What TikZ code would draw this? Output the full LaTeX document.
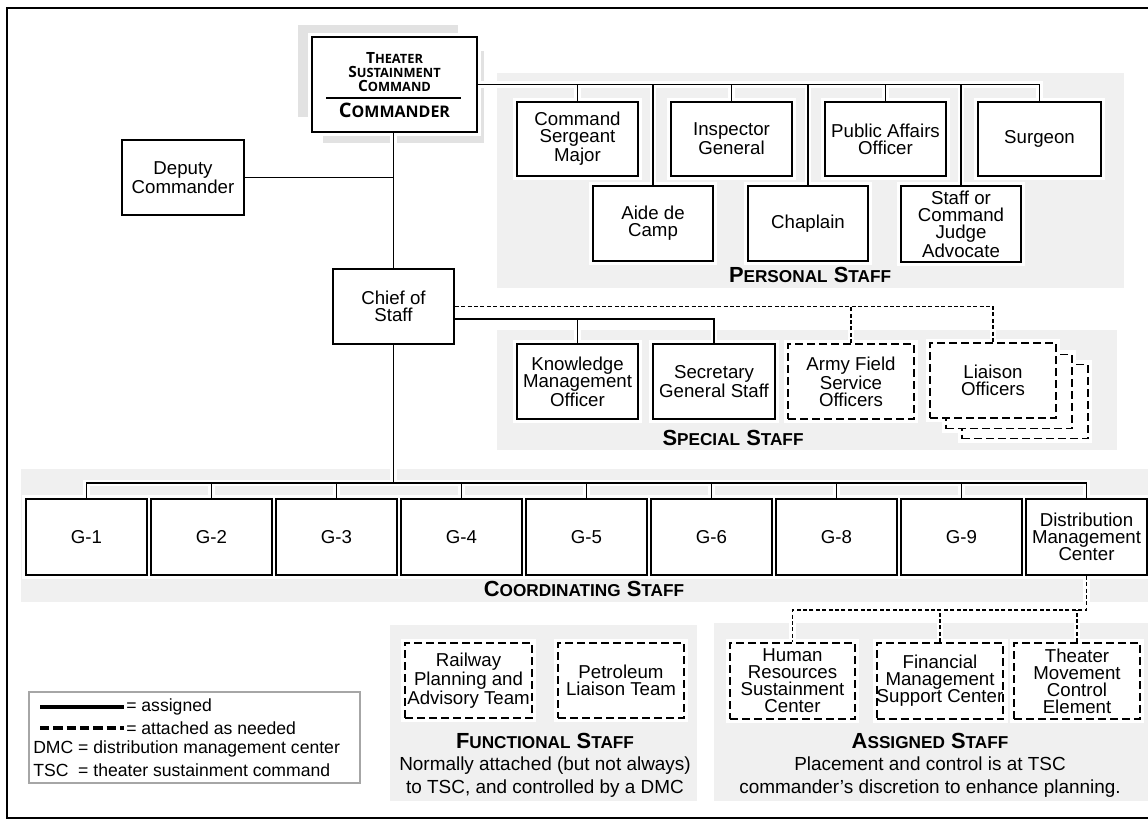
\documentclass[tikz,border=0pt]{standalone}
\usepackage{fontspec}
\setmainfont{Liberation Sans}
\newfontfamily\hum{Open Sans}
\pgfdeclarelayer{bg}
\pgfsetlayers{bg,main}
\definecolor{regiongray}{RGB}{240,240,240}
\definecolor{shadowgray}{RGB}{226,226,226}
\newcommand\lab{\fontsize{14}{12.75}\selectfont}
\newcommand\hdf{\fontsize{16.4}{18}\selectfont\bfseries}
\newcommand\smc[1]{{\fontsize{12.9}{14}\selectfont #1}}
\newcommand\csm[1]{{\fontsize{9.6}{10}\selectfont #1}}
\newcommand\cmm[1]{{\fontsize{12}{12}\selectfont #1}}
\newcommand\lnk[2][]{\begin{pgfonlayer}{bg}\draw[halo] #2;\end{pgfonlayer}\draw[ln,#1] #2;}
\begin{document}
\begin{tikzpicture}[x=0.75pt, y=-0.75pt,
  ln/.style={line width=1.3pt, draw=black},
  dln/.style={dash pattern=on 3pt off 1.8pt},
  halo/.style={draw=white, line width=5pt},
  box/.style={draw, line width=1.3pt, fill=white, inner sep=0pt, align=center, font=\lab},
  dbox/.style={box, dash pattern=on 6pt off 3pt},
  sz/.style 2 args={minimum width=#1*0.75pt, minimum height=#2*0.75pt},
  hd/.style={font=\hdf, inner sep=0pt},
  ttl/.style={font=\hum\bfseries\fontsize{11.6}{10.6}\selectfont, inner sep=0pt, anchor=base},
  txt/.style={font=\fontsize{14.2}{17.25}\selectfont, align=center, inner sep=0pt},
  lgd/.style={font=\fontsize{13.2}{15}\selectfont, inner sep=0pt, anchor=west}]
\useasboundingbox (0,0) rectangle (1148,824);

% regions
\begin{pgfonlayer}{bg}
\fill[regiongray] (497,73) rectangle (1124,288);
\fill[regiongray] (497,330) rectangle (1117,450);
\fill[regiongray] (21,469) rectangle (1148,602);
\fill[regiongray] (390,625) rectangle (697,801);
\fill[regiongray] (714,623) rectangle (1148,801);
\fill[shadowgray] (298,25) rectangle (458,117);
\fill[shadowgray] (323,51) rectangle (484,143);
\end{pgfonlayer}

% frame
\draw[line width=1.5pt] (1148,8) -- (7,8) -- (7,818) -- (1148,818);

% commander
\node[box, sz={165}{95}] (cmd) at (394.5,84.5) {};
\node[ttl] (cmt1) at (394.5,63.5) {T\csm{HEATER}};
\node[ttl] (cmt2) at (394.5,77.5) {S\csm{USTAINMENT}};
\node[ttl] (cmt3) at (394.5,91.5) {C\csm{OMMAND}};
\draw[line width=1.2pt] (326,98) -- (461,98);
\node[font=\hum\bfseries\fontsize{15}{15}\selectfont, inner sep=0pt, anchor=base] (cmdl) at (394.5,117) {C\cmm{OMMANDER}};

\node[box, sz={122}{75}] (dep) at (183,177.5) {Deputy\\Commander};
\node[box, sz={121}{75}] (cos) at (393.5,306.5) {Chief of\\Staff};

% personal staff
\node[box, sz={121}{74}] (csm) at (577.5,139) {Command\\Sergeant\\Major};
\node[box, sz={121}{74}] (ig) at (731.5,139) {Inspector\\General};
\node[box, sz={121}{74}] (pao) at (885.5,139) {Public Affairs\\Officer};
\node[box, sz={123}{74}] (surg) at (1039.5,139) {Surgeon};
\node[box, sz={120}{75}] (aide) at (653,223.5) {Aide de\\Camp};
\node[box, sz={120}{75}] (chap) at (808,223.5) {Chaplain};
\node[box, sz={120}{76}] (sja) at (961,224) {Staff or\\Command\\Judge\\Advocate};

% special staff
\node[box, sz={121}{75}] (kmo) at (577.5,381.5) {Knowledge\\Management\\Officer};
\node[box, sz={122}{75}] (sgs) at (714,381.5) {Secretary\\General Staff};
\node[dbox, sz={126}{75}] (afso) at (851,381.5) {Army Field\\Service\\Officers};
\node[dbox, sz={126}{74}] (lia3) at (1025,401.5) {};
\node[dbox, sz={126}{74}] (lia2) at (1009,391.5) {};
\node[dbox, sz={126}{75}] (lia) at (993,380.5) {Liaison\\Officers};

% coordinating staff
\foreach \i/\t in {0/G-1,1/G-2,2/G-3,3/G-4,4/G-5,5/G-6,6/G-8,7/G-9}
  \node[box, sz={121}{76}] (g\i) at ({86.5+125*\i},537) {\t};
\node[box, sz={121}{76}] (dmc) at (1086.5,537) {Distribution\\Management\\Center};

% functional / assigned
\node[dbox, sz={127}{75}] (rail) at (468.5,680.5) {Railway\\Planning and\\Advisory Team};
\node[dbox, sz={126}{75}] (petr) at (621,680.5) {Petroleum\\Liaison Team};
\node[dbox, sz={125}{76}] (hrsc) at (792.5,681) {Human\\Resources\\Sustainment\\Center};
\node[dbox, sz={126}{76}] (fmsc) at (940,681) {Financial\\Management\\Support Center};
\node[dbox, sz={126}{76}] (tmce) at (1077,681) {Theater\\Movement\\Control\\Element};

% headings
\node[hd] (hps) at (810,275) {P\smc{ERSONAL} S\smc{TAFF}};
\node[hd] (hss) at (733,438) {S\smc{PECIAL} S\smc{TAFF}};
\node[hd] (hcs) at (584,589) {C\smc{OORDINATING} S\smc{TAFF}};
\node[hd] (hfs) at (545,741) {F\smc{UNCTIONAL} S\smc{TAFF}};
\node[hd] (has) at (930,741) {A\smc{SSIGNED} S\smc{TAFF}};
\node[txt] (dfs) at (545,777) {Normally attached (but not always)\\to TSC, and controlled by a DMC};
\node[txt] (das) at (930,777) {Placement and control is at TSC\\commander’s discretion to enhance planning.};

% legend
\draw[gray!70, line width=1pt] (29,692) rectangle (360,783);
\coordinate (la) at (40,707); \coordinate (lb) at (124,707);
\coordinate (lc) at (40,728); \coordinate (ld) at (124,728);
\draw[line width=2.3pt] (la) -- (lb);
\draw[line width=2.3pt, dash pattern=on 7pt off 3pt] (lc) -- (ld);
\node[lgd] (l1) at (126,707) {= assigned};
\node[lgd] (l2) at (126,728) {= attached as needed};
\node[lgd] (l3) at (33,749) {DMC = distribution management center};
\node[lgd] (l4) at (33,770) {TSC\ \ = theater sustainment command};

% box halos
\begin{pgfonlayer}{bg}
\foreach \n in {cmd,dep,cos,csm,ig,pao,surg,aide,chap,sja,kmo,sgs,afso,lia,lia2,lia3,g0,g1,g2,g3,g4,g5,g6,g7,dmc,rail,petr,hrsc,fmsc,tmce}
  \draw[halo] (\n.south west) rectangle (\n.north east);
\end{pgfonlayer}

% connectors
\coordinate (cs1) at (454,319);
\coordinate (gbar) at (393.5,483);
\coordinate (dbar) at (1086.5,610);
\lnk{(cmd.east) -| (surg.north)}
\lnk{(csm.north) -- (csm.north |- cmd.east)}
\lnk{(aide.north) -- (aide.north |- cmd.east)}
\lnk{(ig.north) -- (ig.north |- cmd.east)}
\lnk{(chap.north) -- (chap.north |- cmd.east)}
\lnk{(pao.north) -- (pao.north |- cmd.east)}
\lnk{(sja.north) -- (sja.north |- cmd.east)}
\lnk{(cos.north) -- (cos.north |- cmd.south)}
\lnk{(dep.east) -- (dep.east -| cos.north)}
\lnk{(cs1) -| (sgs.north)}
\lnk{(kmo.north) -- (kmo.north |- cs1)}
\lnk[dln]{(cos.east) -| (lia.north)}
\lnk[dln]{(afso.north) -- (afso.north |- cos.east)}
\lnk{(cos.south) -- (gbar)}
\lnk{(g0.north) |- (gbar) -| (dmc.north)}
\foreach \i in {1,...,7}{\lnk{(g\i.north) -- (g\i.north |- gbar)}}
\lnk[dln]{(dmc.south) -- (dbar) -| (hrsc.north)}
\lnk[dln]{(fmsc.north) -- (fmsc.north |- dbar)}
\lnk[dln]{(tmce.north) -- (tmce.north |- dbar)}
\end{tikzpicture}
\end{document}
